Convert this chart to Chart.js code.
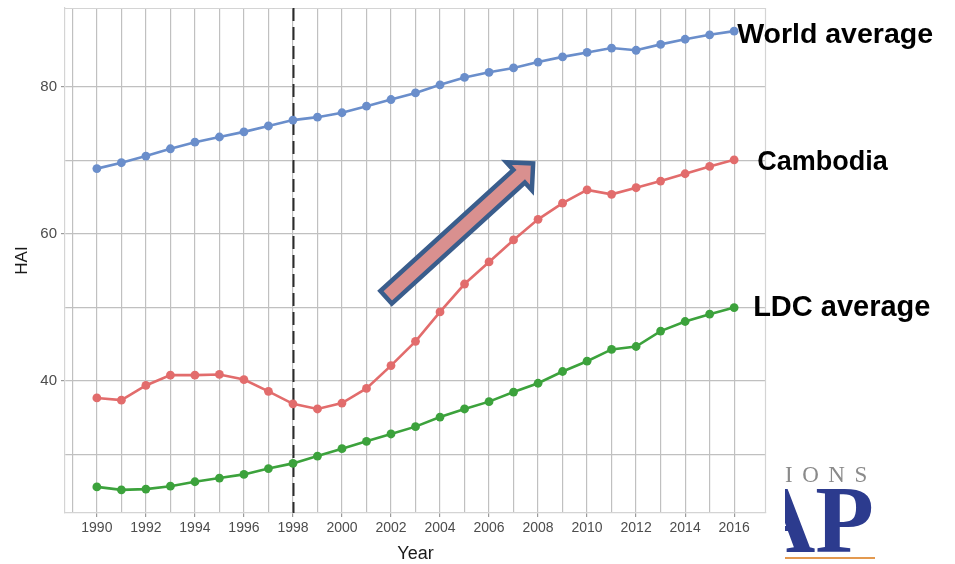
<!DOCTYPE html>
<html>
<head>
<meta charset="utf-8">
<script src="https://cdn.jsdelivr.net/npm/chart.js@4/dist/chart.umd.min.js"></script>
<style>
  html, body { margin: 0; padding: 0; background: #fff; }
  #wrap { position: relative; width: 955px; height: 564px; }
</style>
</head>
<body>
<div id="wrap"><canvas id="c" width="955" height="564"></canvas></div>
<script>
// Health Assets Index (HAI), 1990-2016
const years = [1990,1991,1992,1993,1994,1995,1996,1997,1998,1999,2000,2001,2002,2003,
               2004,2005,2006,2007,2008,2009,2010,2011,2012,2013,2014,2015,2016];
const worldAverage = [68.9,69.7,70.6,71.6,72.5,73.2,73.9,74.7,75.5,75.9,76.5,77.4,78.3,79.2,
                      80.3,81.3,82.0,82.6,83.4,84.1,84.7,85.3,85.0,85.8,86.5,87.1,87.6];
const cambodia     = [37.7,37.4,39.4,40.8,40.8,40.9,40.2,38.6,36.9,36.2,37.0,39.0,42.1,45.4,
                      49.4,53.2,56.2,59.2,62.0,64.2,66.0,65.4,66.3,67.2,68.2,69.2,70.1];
const ldcAverage   = [25.6,25.2,25.3,25.7,26.3,26.8,27.3,28.1,28.8,29.8,30.8,31.8,32.8,33.8,
                      35.1,36.2,37.2,38.5,39.7,41.3,42.7,44.3,44.7,46.8,48.1,49.1,50.0];

const seriesNames = ['World average', 'Cambodia', 'LDC average'];
const seriesColors = ['#6a8ecb', '#e26c6c', '#3ca23c'];

const gridYears = [1989,1990,1991,1992,1993,1994,1995,1996,1997,1998,1999,2000,2001,2002,
                   2003,2004,2005,2006,2007,2008,2009,2010,2011,2012,2013,2014,2015,2016];
const xTickYears = [1990,1992,1994,1996,1998,2000,2002,2004,2006,2008,2010,2012,2014,2016];
const gridValues = [30,40,50,60,70,80];
const yTickValues = [40,60,80];

const markerYear = 1998;                 // dashed reference year
const trendFrom = [2001.8, 51.4];        // arrow tail (year, HAI)
const trendTo   = [2007.8, 69.6];        // arrow tip  (year, HAI)

const GRID = '#c0c0c0';
const toPoints = vals => years.map((y, i) => ({ x: y, y: vals[i] }));
const seriesValues = [worldAverage, cambodia, ldcAverage];

const datasets = seriesValues.map((vals, i) => ({
  label: seriesNames[i],
  data: toPoints(vals),
  borderColor: seriesColors[i],
  backgroundColor: seriesColors[i],
  borderWidth: 2.6,
  pointRadius: 4.4,
  pointHoverRadius: 4.4,
  pointBorderWidth: 0,
  tension: 0
}));

// Series name, pixel offset from the series' last point (left edge, baseline), font size
const endLabels = [
  { dx: 3,  dy: 12, size: 28.5 },
  { dx: 23, dy: 10, size: 27 },
  { dx: 19, dy: 8,  size: 29 }
];

const decorations = {
  id: 'decorations',
  beforeDatasetsDraw(chart) {
    const { ctx, chartArea: a, scales: { x } } = chart;
    ctx.save();
    // top and right panel border
    ctx.strokeStyle = '#d4d4d4';
    ctx.lineWidth = 1.2;
    ctx.beginPath();
    ctx.moveTo(a.left, a.top + 0.5); ctx.lineTo(a.right, a.top + 0.5);
    ctx.moveTo(a.right - 0.5, a.top); ctx.lineTo(a.right - 0.5, a.bottom);
    ctx.stroke();
    // dashed reference year
    const xm = Math.round(x.getPixelForValue(markerYear)) + 0.5;
    ctx.strokeStyle = '#2b2b2b';
    ctx.lineWidth = 2;
    ctx.setLineDash([13, 6]);
    ctx.beginPath();
    ctx.moveTo(xm, a.top); ctx.lineTo(xm, a.bottom);
    ctx.stroke();
    ctx.restore();
  },
  afterDatasetsDraw(chart) {
    const { ctx, scales: { x, y } } = chart;
    ctx.save();
    // trend arrow
    const tx = x.getPixelForValue(trendFrom[0]), ty = y.getPixelForValue(trendFrom[1]);
    const px = x.getPixelForValue(trendTo[0]),   py = y.getPixelForValue(trendTo[1]);
    const len = Math.hypot(px - tx, py - ty);
    const ux = (px - tx) / len, uy = (py - ty) / len;
    const nx = -uy, ny = ux;
    const w = 8.5, hw = 19, hl = 19;
    const bx = px - ux * hl, by = py - uy * hl;
    ctx.beginPath();
    ctx.moveTo(tx + nx * w, ty + ny * w);
    ctx.lineTo(bx + nx * w, by + ny * w);
    ctx.lineTo(bx + nx * hw, by + ny * hw);
    ctx.lineTo(px, py);
    ctx.lineTo(bx - nx * hw, by - ny * hw);
    ctx.lineTo(bx - nx * w, by - ny * w);
    ctx.lineTo(tx - nx * w, ty - ny * w);
    ctx.closePath();
    ctx.fillStyle = '#d9908f';
    ctx.fill();
    ctx.lineJoin = 'miter';
    ctx.miterLimit = 10;
    ctx.lineWidth = 4.5;
    ctx.strokeStyle = '#3a5d8c';
    ctx.stroke();

    // series names at the line ends
    ctx.fillStyle = '#000';
    ctx.textAlign = 'left';
    ctx.textBaseline = 'alphabetic';
    seriesValues.forEach((vals, i) => {
      const last = vals.length - 1;
      const lx = x.getPixelForValue(years[last]) + endLabels[i].dx;
      const ly = y.getPixelForValue(vals[last]) + endLabels[i].dy;
      ctx.font = 'bold ' + endLabels[i].size + 'px "Liberation Sans", Arial, sans-serif';
      ctx.fillText(seriesNames[i], lx, ly);
    });

    // logo fragment in the lower right corner
    ctx.beginPath();
    ctx.rect(785, 455, 170, 109);
    ctx.clip();
    ctx.font = '23px "Liberation Serif", "Times New Roman", serif';
    ctx.fillStyle = '#8a8a8a';
    ctx.textAlign = 'left';
    const letters = ['I', 'O', 'N', 'S'];
    let lx = 785;
    letters.forEach(ch => {
      ctx.fillText(ch, lx, 482);
      lx += ctx.measureText(ch).width + 9.5;
    });
    ctx.font = 'bold 96px "Liberation Serif", "Times New Roman", serif';
    ctx.fillStyle = '#2c3b8e';
    ctx.textAlign = 'right';
    ctx.fillText('AP', 874, 552);
    ctx.fillStyle = '#e3994f';
    ctx.fillRect(785, 557, 90, 2);
    ctx.restore();
  }
};

new Chart(document.getElementById('c'), {
  type: 'line',
  data: { datasets },
  plugins: [decorations],
  options: {
    responsive: false,
    animation: false,
    events: [],
    layout: { padding: { top: 8, right: 189, left: 0, bottom: 0 } },
    plugins: { legend: { display: false }, tooltip: { enabled: false } },
    scales: {
      x: {
        type: 'linear',
        min: 1988.7,
        max: 2017.3,
        afterBuildTicks: s => { s.ticks = gridYears.map(v => ({ value: v })); },
        afterFit: s => { s.height = 51; s.paddingLeft = 0; s.paddingRight = 0; },
        ticks: {
          autoSkip: false,
          maxRotation: 0,
          padding: 3,
          color: '#4d4d4d',
          font: { family: '"Liberation Sans", Arial, sans-serif', size: 14 },
          callback: v => xTickYears.includes(v) ? String(v) : ''
        },
        grid: {
          color: GRID,
          lineWidth: 1.2,
          tickLength: 4,
          tickColor: c => (c.tick && xTickYears.includes(c.tick.value)) ? '#9a9a9a' : 'rgba(0,0,0,0)'
        },
        border: { display: true, color: '#d4d4d4', width: 1.2 },
        title: {
          display: true,
          text: 'Year',
          color: '#1a1a1a',
          font: { family: '"Liberation Sans", Arial, sans-serif', size: 18, lineHeight: 1 },
          padding: { top: 0, bottom: 1 }
        }
      },
      y: {
        type: 'linear',
        min: 22.05,
        max: 90.75,
        afterBuildTicks: s => { s.ticks = gridValues.map(v => ({ value: v })); },
        afterFit: s => { s.width = 65; s.paddingTop = 0; s.paddingBottom = 0; },
        ticks: {
          padding: 4,
          color: '#4d4d4d',
          font: { family: '"Liberation Sans", Arial, sans-serif', size: 15 },
          callback: v => yTickValues.includes(v) ? String(v) : ''
        },
        grid: {
          color: GRID,
          lineWidth: 1.2,
          tickLength: 4,
          tickColor: c => (c.tick && yTickValues.includes(c.tick.value)) ? '#9a9a9a' : 'rgba(0,0,0,0)'
        },
        border: { display: true, color: '#d4d4d4', width: 1.2 },
        title: {
          display: true,
          text: 'HAI',
          color: '#1a1a1a',
          font: { family: '"Liberation Sans", Arial, sans-serif', size: 17, lineHeight: 1.2 },
          padding: { top: 12, bottom: 0 }
        }
      }
    }
  }
});
</script>
</body>
</html>
